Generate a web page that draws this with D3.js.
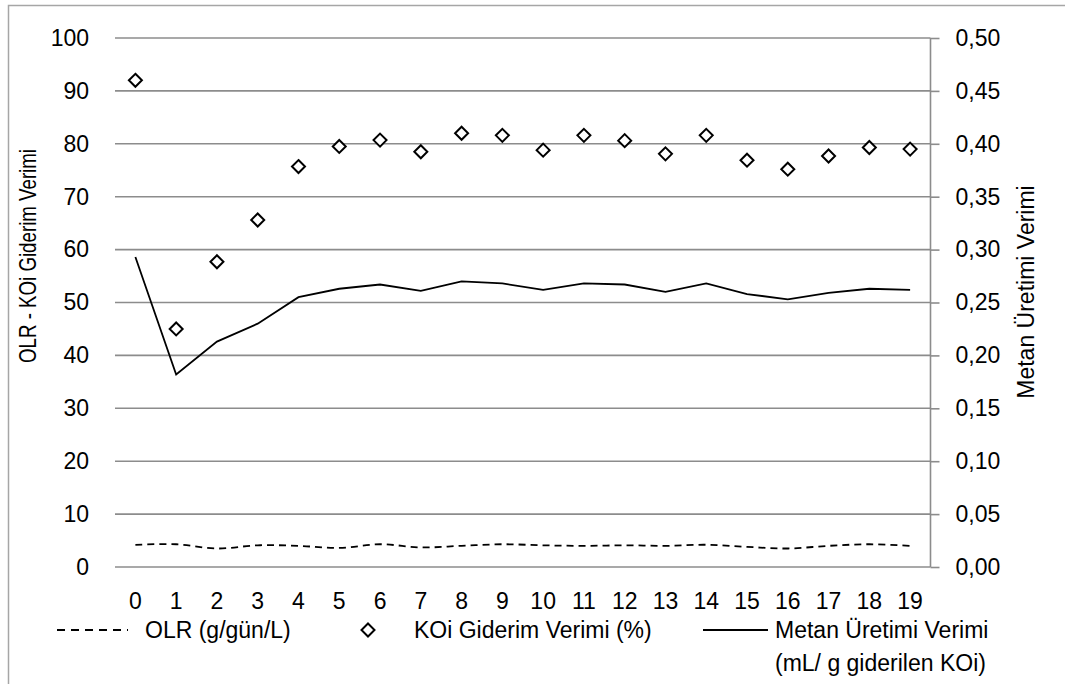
<!DOCTYPE html>
<html>
<head>
<meta charset="utf-8">
<script src="https://cdn.jsdelivr.net/npm/d3@7"></script>
<style>
  html, body { margin: 0; padding: 0; background: #fff; }
  svg { display: block; }
  text { font-family: "Liberation Sans", Arial, sans-serif; fill: #000; }
</style>
</head>
<body>
<svg id="chart" width="1065" height="684"></svg>
<script>
// Days of operation (category axis)
const days = d3.range(0, 20).map(String);

// OLR (g/gün/L) – left axis
const olr = [4.2, 4.3, 3.5, 4.1, 4.0, 3.6, 4.3, 3.7, 4.0, 4.3,
             4.1, 4.0, 4.1, 4.0, 4.2, 3.8, 3.5, 4.0, 4.3, 4.0];

// KOi giderim verimi (%) – left axis
const koi = [92.0, 45.0, 57.7, 65.6, 75.7, 79.5, 80.7, 78.5, 82.0, 81.6,
             78.8, 81.6, 80.6, 78.1, 81.6, 76.9, 75.2, 77.7, 79.3, 79.0];

// Metan üretimi verimi (mL / g giderilen KOi) – right axis
const metan = [0.293, 0.182, 0.213, 0.230, 0.255, 0.263, 0.267, 0.261, 0.270, 0.268,
               0.262, 0.268, 0.267, 0.260, 0.268, 0.258, 0.253, 0.259, 0.263, 0.262];

const leftTicks = d3.range(0, 101, 10);
const rightTicks = d3.range(0, 0.501, 0.05);

const svg = d3.select("#chart");
const plot = { left: 115, right: 930.5, top: 38, bottom: 567 };

const x = d3.scaleBand().domain(days).range([plot.left, plot.right]);
const yL = d3.scaleLinear().domain([0, 100]).range([plot.bottom, plot.top]);
const yR = d3.scaleLinear().domain([0, 0.5]).range([plot.bottom, plot.top]);
const cx = d => x(d) + x.bandwidth() / 2;

// Outer frame (top and left edges)
svg.append("path")
  .attr("d", "M8.5,684 V5.5 H1065")
  .attr("fill", "none").attr("stroke", "#a6a6a6").attr("stroke-width", 1.5);

// Horizontal gridlines
svg.append("g").selectAll("line").data(leftTicks).join("line")
  .attr("x1", plot.left).attr("x2", plot.right)
  .attr("y1", d => yL(d)).attr("y2", d => yL(d))
  .attr("stroke", "#8c8c8c").attr("stroke-width", 1.6);

// Left axis labels
const leftAxis = d3.axisLeft(yL).tickValues(leftTicks).tickSize(0).tickPadding(26)
  .tickFormat(d3.format("d"));
const gL = svg.append("g").attr("transform", `translate(${plot.left},0)`).call(leftAxis);
gL.select(".domain").remove();
gL.selectAll("text").style("font-size", "23px").style("font-family", null).attr("fill", "#000");

// Right axis with outward ticks
const commaFmt = d => d3.format(".2f")(d).replace(".", ",");
const rightAxis = d3.axisRight(yR).tickValues(rightTicks).tickSize(9).tickPadding(16)
  .tickFormat(commaFmt);
const gR = svg.append("g").attr("transform", `translate(${plot.right},0)`).call(rightAxis);
gR.select(".domain").attr("stroke", "#8c8c8c").attr("stroke-width", 1.6)
  .attr("d", `M0,${plot.top}V${plot.bottom}`);
gR.selectAll(".tick line").attr("stroke", "#8c8c8c").attr("stroke-width", 1.6);
gR.selectAll("text").style("font-size", "23px").style("font-family", null).attr("fill", "#000");

// Category axis labels
const bottomAxis = d3.axisBottom(x).tickSize(0).tickPadding(26);
const gB = svg.append("g").attr("transform", `translate(0,${plot.bottom})`).call(bottomAxis);
gB.select(".domain").remove();
gB.selectAll("text").style("font-size", "23px").style("font-family", null).attr("fill", "#000");

// OLR – smoothed dashed line
const olrLine = d3.line().x((d, i) => cx(days[i])).y(d => yL(d)).curve(d3.curveCatmullRom.alpha(0.5));
svg.append("path").datum(olr).attr("d", olrLine)
  .attr("fill", "none").attr("stroke", "#000").attr("stroke-width", 1.8)
  .attr("stroke-dasharray", "7,5");

// Metan line – right axis
const metanLine = d3.line().x((d, i) => cx(days[i])).y(d => yR(d));
svg.append("path").datum(metan).attr("d", metanLine)
  .attr("fill", "none").attr("stroke", "#000").attr("stroke-width", 1.8);

// KOi markers – hollow diamonds
const diamond = s => `M0,${-s}L${s},0L0,${s}L${-s},0Z`;
svg.append("g").selectAll("path").data(koi).join("path")
  .attr("transform", (d, i) => `translate(${cx(days[i])},${yL(d)})`)
  .attr("d", diamond(6.5))
  .attr("fill", "#fff").attr("stroke", "#000").attr("stroke-width", 2);

// Axis titles (condensed face)
const titleFont = '"Liberation Sans Narrow", "Arial Narrow", "Liberation Sans", sans-serif';
svg.append("text")
  .attr("transform", "translate(36,256) rotate(-90)")
  .attr("text-anchor", "middle")
  .attr("textLength", 214).attr("lengthAdjust", "spacingAndGlyphs")
  .style("font-family", titleFont)
  .style("font-size", "24px")
  .text("OLR - KOi Giderim Verimi");

svg.append("text")
  .attr("transform", "translate(1034,292) rotate(-90)")
  .attr("text-anchor", "middle")
  .style("font-size", "23px")
  .text("Metan Üretimi Verimi");

// Legend
const lg = svg.append("g").style("font-size", "23px");
const ly = 630;
lg.append("line").attr("x1", 57).attr("x2", 128).attr("y1", ly).attr("y2", ly)
  .attr("stroke", "#000").attr("stroke-width", 1.8).attr("stroke-dasharray", "8,6");
lg.append("text").attr("x", 145).attr("y", ly + 8).text("OLR (g/gün/L)");
lg.append("path").attr("transform", `translate(368,${ly})`).attr("d", diamond(6.5))
  .attr("fill", "#fff").attr("stroke", "#000").attr("stroke-width", 2);
lg.append("text").attr("x", 414).attr("y", ly + 8).text("KOi Giderim Verimi (%)");
lg.append("line").attr("x1", 703).attr("x2", 768).attr("y1", ly).attr("y2", ly)
  .attr("stroke", "#000").attr("stroke-width", 1.8);
lg.append("text").attr("x", 775).attr("y", ly + 8).text("Metan Üretimi Verimi");
lg.append("text").attr("x", 775).attr("y", ly + 41).text("(mL/ g giderilen KOi)");
</script>
</body>
</html>
